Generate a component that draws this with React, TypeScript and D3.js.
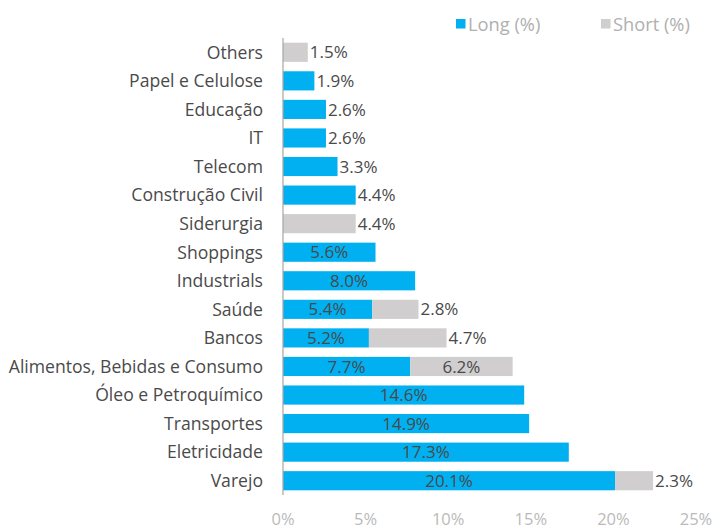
import React from "react";
import * as d3 from "d3";

const categories = [
  "Others",
  "Papel e Celulose",
  "Educação",
  "IT",
  "Telecom",
  "Construção Civil",
  "Siderurgia",
  "Shoppings",
  "Industrials",
  "Saúde",
  "Bancos",
  "Alimentos, Bebidas e Consumo",
  "Óleo e Petroquímico",
  "Transportes",
  "Eletricidade",
  "Varejo",
];
const longValues = [0, 1.9, 2.6, 2.6, 3.3, 4.4, 0, 5.6, 8.0, 5.4, 5.2, 7.7, 14.6, 14.9, 17.3, 20.1];
const shortValues = [1.5, 0, 0, 0, 0, 0, 4.4, 0, 0, 2.8, 4.7, 6.2, 0, 0, 0, 2.3];
const xTicks = [0, 5, 10, 15, 20, 25];
const seriesNames = ["Long (%)", "Short (%)"];

const BLUE = "#00B0F0";
const GRAY = "#D0CECE";
const TEXT = "#4A4A4A";
const TICK = "#BABABA";
const LEG = "#B0B0B0";
const FONT = "'Open Sans', sans-serif";

export default function App() {
  const W = 712;
  const H = 529;
  const x = d3.scaleLinear().domain([0, 25]).range([283, 696]);
  const y = d3
    .scaleBand<string>()
    .domain(categories)
    .range([38, 495])
    .paddingInner(0.33)
    .paddingOuter(0.165);
  const bh = y.bandwidth();
  const threshold = 80;

  const segs: React.ReactNode[] = [];
  categories.forEach((c, i) => {
    const y0 = y(c)!;
    const cy = y0 + bh / 2;
    const parts = [
      { v: longValues[i], start: 0, color: BLUE, key: "l" },
      { v: shortValues[i], start: longValues[i], color: GRAY, key: "s" },
    ];
    parts.forEach((p) => {
      if (p.v <= 0) return;
      const x0 = x(p.start);
      const x1 = x(p.start + p.v);
      const w = x1 - x0;
      segs.push(
        <rect key={c + p.key} x={x0} y={y0} width={w} height={bh} fill={p.color} />
      );
      const inside = w >= threshold;
      segs.push(
        <text
          key={c + p.key + "t"}
          x={inside ? (x0 + x1) / 2 : x1 + 2}
          y={cy}
          dy="0.36em"
          textAnchor={inside ? "middle" : "start"}
          fontSize={17}
          fill={TEXT}
          fontFamily={FONT}
        >
          {p.v.toFixed(1) + "%"}
        </text>
      );
    });
  });

  return (
    <svg
      width={W}
      height={H}
      style={{ position: "absolute", left: 0, top: 0, background: "#fff" }}
    >
      {/* legend */}
      <g fontFamily={FONT} fontSize={18.3} fill={LEG}>
        <rect x={456} y={19} width={9.5} height={9.5} fill={BLUE} />
        <text x={468} y={31}>{seriesNames[0]}</text>
        <rect x={601} y={19} width={9.5} height={9.5} fill={GRAY} />
        <text x={613} y={31}>{seriesNames[1]}</text>
      </g>
      {/* category labels */}
      <g fontFamily={FONT} fontSize={17.6} fill={TEXT}>
        {categories.map((c) => (
          <text key={c} x={263} y={y(c)! + bh / 2} dy="0.36em" textAnchor="end">
            {c}
          </text>
        ))}
      </g>
      {segs}
      {/* axis line */}
      <line x1={x(0)} x2={x(0)} y1={38} y2={495} stroke="#A6A6A6" strokeWidth={1.2} />
      {/* x ticks */}
      <g fontFamily={FONT} fontSize={16.5} fill={TICK}>
        {xTicks.map((t) => (
          <text key={t} x={x(t)} y={525} textAnchor="middle">
            {t + "%"}
          </text>
        ))}
      </g>
    </svg>
  );
}
